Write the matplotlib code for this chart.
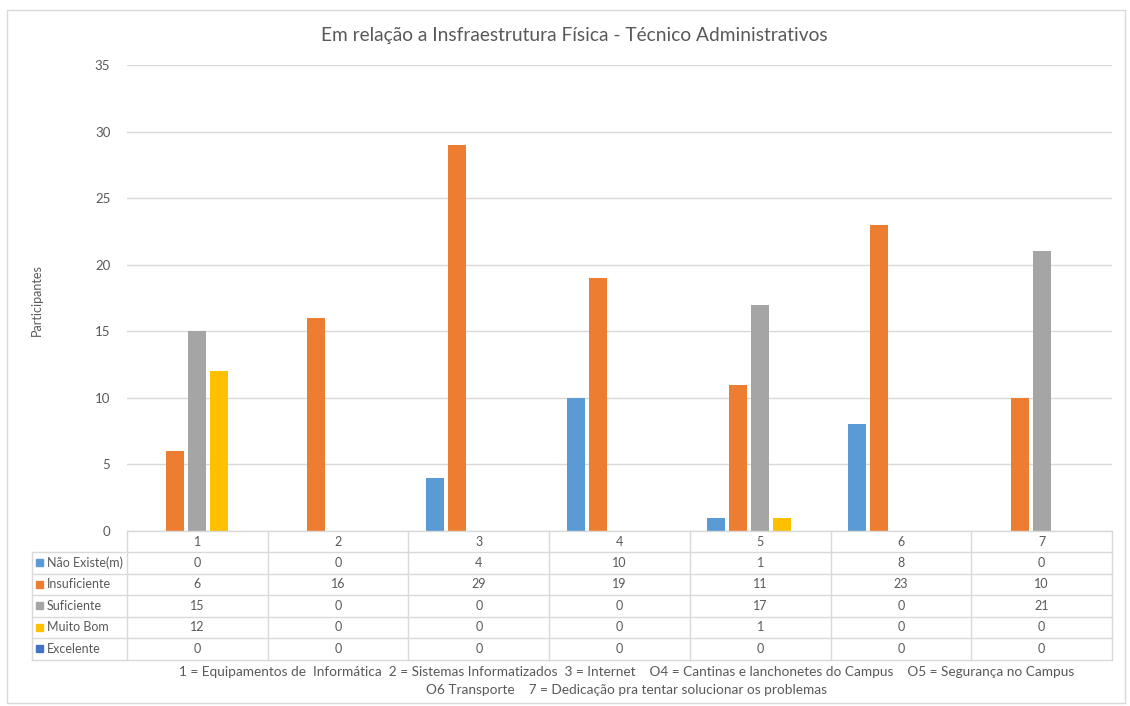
import matplotlib
matplotlib.use("Agg")
import matplotlib.pyplot as plt
from matplotlib.patches import Rectangle
from matplotlib.lines import Line2D
import numpy as np

plt.rcParams['font.family'] = ['Lato', 'DejaVu Sans']

title = "Em relação a Insfraestrutura Física - Técnico Administrativos"
categories = ["1", "2", "3", "4", "5", "6", "7"]
series_names = ["Não Existe(m)", "Insuficiente", "Suficiente", "Muito Bom", "Excelente"]
nao_existe = [0, 0, 4, 10, 1, 8, 0]
insuficiente = [6, 16, 29, 19, 11, 23, 10]
suficiente = [15, 0, 0, 0, 17, 0, 21]
muito_bom = [12, 0, 0, 0, 1, 0, 0]
excelente = [0, 0, 0, 0, 0, 0, 0]
series_values = [nao_existe, insuficiente, suficiente, muito_bom, excelente]
colors = ["#5B9BD5", "#ED7D31", "#A5A5A5", "#FFC000", "#4472C4"]
y_label = "Participantes"
footnote_1 = "1 = Equipamentos de  Informática  2 = Sistemas Informatizados  3 = Internet    O4 = Cantinas e lanchonetes do Campus    O5 = Segurança no Campus"
footnote_2 = "O6 Transporte    7 = Dedicação pra tentar solucionar os problemas"

W, H = 1130, 706
fig = plt.figure(figsize=(W / 100, H / 100), dpi=100)
txt = "#595959"
grid = "#D9D9D9"

def fx(px):
    return px / W

def fy(py):
    return 1 - py / H

# chart border
fig.patches.append(Rectangle((fx(7), fy(703)), fx(1125) - fx(7), fy(10) - fy(703),
                             transform=fig.transFigure, fill=False, edgecolor=grid, lw=1))

left, right, top, bottom = 127, 1112, 65, 531
ax = fig.add_axes([fx(left), fy(bottom), fx(right) - fx(left), fy(top) - fy(bottom)])
n = len(categories)
x = np.arange(n)
step = 0.156
bw = 0.128
for i, (vals, c) in enumerate(zip(series_values, colors)):
    ax.bar(x + (i - 2) * step, vals, width=bw, color=c, zorder=3)
ax.set_xlim(-0.5, n - 0.5)
ax.set_ylim(0, 35)
ax.set_yticks(range(0, 36, 5))
ax.yaxis.grid(True, color=grid, lw=1, zorder=0)
ax.set_xticks([])
for s in ax.spines.values():
    s.set_visible(False)
ax.tick_params(axis='y', length=0, labelsize=9.5, labelcolor=txt, pad=12)

fig.text(fx(574), fy(35), title, ha='center', va='center', fontsize=13.8, color=txt)
fig.text(fx(37), fy(300), y_label, ha='center', va='center', rotation=90, fontsize=9, color=txt)

# data table
col_w = (right - left) / n
row_tops = [531, 552, 573.5, 595, 616.5, 638, 659.5]
def hline(y, x0, x1):
    fig.add_artist(Line2D([fx(x0), fx(x1)], [fy(y), fy(y)], transform=fig.transFigure, color=grid, lw=1))
def vline(xp, y0, y1):
    fig.add_artist(Line2D([fx(xp), fx(xp)], [fy(y0), fy(y1)], transform=fig.transFigure, color=grid, lw=1))

hline(row_tops[0], left, right)
for y in row_tops[1:]:
    hline(y, 32, right)
vline(32, row_tops[1], row_tops[-1])
for j in range(n + 1):
    vline(left + j * col_w, row_tops[0], row_tops[-1])

fs = 9
for j, cat in enumerate(categories):
    cx = left + (j + 0.5) * col_w
    fig.text(fx(cx), fy((row_tops[0] + row_tops[1]) / 2), cat, ha='center', va='center', fontsize=fs, color=txt)
    for i, vals in enumerate(series_values):
        cy = (row_tops[i + 1] + row_tops[i + 2]) / 2
        fig.text(fx(cx), fy(cy), str(vals[j]), ha='center', va='center', fontsize=fs, color=txt)
for i, (name, c) in enumerate(zip(series_names, colors)):
    cy = (row_tops[i + 1] + row_tops[i + 2]) / 2
    fig.patches.append(Rectangle((fx(36), fy(cy + 3.5)), fx(7), fy(0) - fy(7),
                                 transform=fig.transFigure, color=c))
    fig.text(fx(47), fy(cy), name, ha='left', va='center', fontsize=fs, color=txt)

fig.text(fx(627), fy(672), footnote_1, ha='center', va='center', fontsize=9.8, color=txt)
fig.text(fx(627), fy(690), footnote_2, ha='center', va='center', fontsize=9.8, color=txt)

fig.savefig("out.png", dpi=100)
